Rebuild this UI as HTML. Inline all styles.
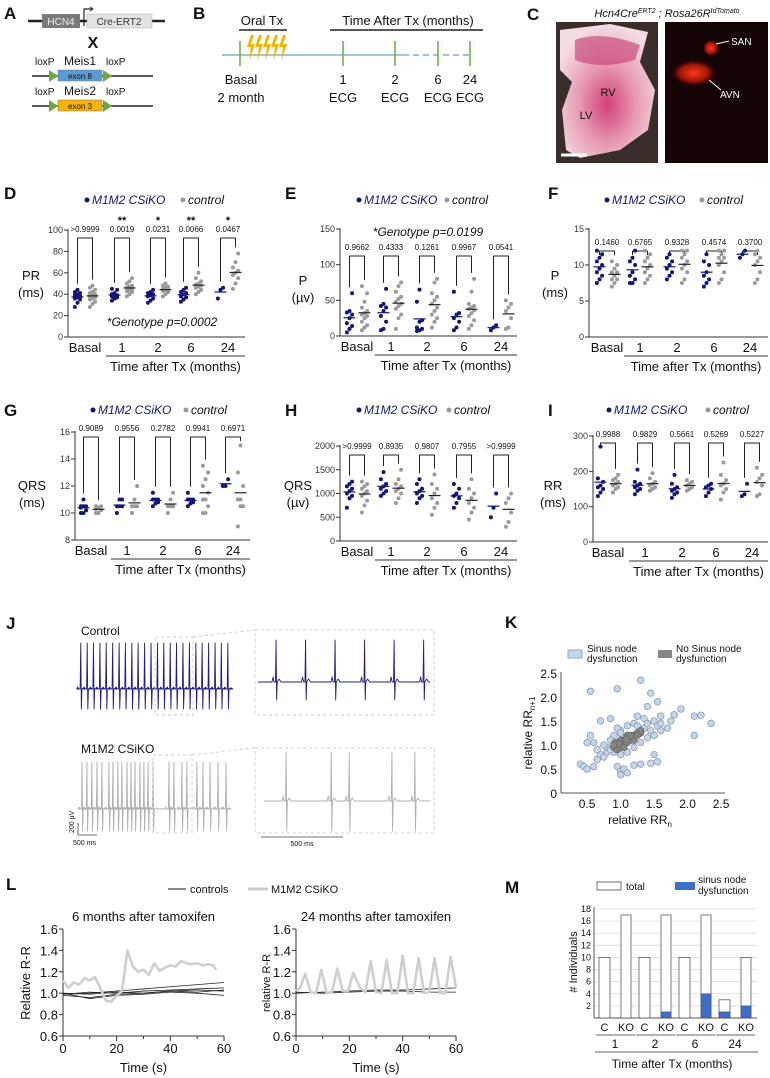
<!DOCTYPE html>
<html><head><meta charset="utf-8"><title>Figure</title>
<style>
html,body{margin:0;padding:0;background:#fff;}
svg{display:block;font-family:"Liberation Sans",Arial,sans-serif;}
</style></head>
<body>
<svg id="fig" width="770" height="1078" viewBox="0 0 770 1078" xmlns="http://www.w3.org/2000/svg">
<defs>
<radialGradient id="heartG" cx="0.5" cy="0.6" r="0.6">
<stop offset="0" stop-color="#d0417a"/><stop offset="0.5" stop-color="#e79ab3"/><stop offset="1" stop-color="#f3dde2"/>
</radialGradient>
<radialGradient id="glowG" cx="0.5" cy="0.5" r="0.5">
<stop offset="0" stop-color="#ff3a1a"/><stop offset="0.6" stop-color="#c41a08" stop-opacity="0.8"/><stop offset="1" stop-color="#200" stop-opacity="0"/>
</radialGradient>
</defs>
</svg>
<script>
// ---------- DATA ----------
const groups = ['Basal','1','2','6','24'];
// D: PR (ms)
const prKO = [[28,32,35,36,37,38,39,40,41,42,44],[34,36,37,38,38,39,40,41,44,45],[32,34,36,38,39,40,41,42,44],[33,35,37,38,40,41,42,44,46],[36,44,46]];
const prCtrl = [[28,31,33,35,36,37,38,39,40,41,42,44,46,48],[38,40,42,43,44,45,46,47,48,50,52,55],[38,40,42,43,44,44,45,46,47,48,50],[40,42,44,46,47,48,49,50,52,55,60],[45,50,55,58,60,62,65,70,78]];
const prP = ['>0.9999','0.0019','0.0231','0.0066','0.0467'];
const prStars = ['','**','*','**','*'];
// E: P (uV)
const pAmpKO = [[5,10,14,18,25,30,33,35,60],[8,10,20,28,35,40,42,45,66],[7,8,10,12,20,22,48,65],[8,12,20,25,30,32,62],[8,12,15]];
const pAmpCtrl = [[8,12,15,20,25,28,30,32,35,40,48,60,70],[10,25,30,38,42,45,48,52,55,62,70,75],[12,20,25,30,35,40,45,50,55,60,75,80],[10,15,22,28,32,36,38,40,42,45,62,80],[10,12,25,35,40,45,50]];
const pAmpP = ['0.9662','0.4333','0.1261','0.9967','0.0541'];
// F: P (ms)
const pDurKO = [[7.5,8,8.5,9,9.5,10,10.5,11,11.5,12],[7.5,7.5,8,8.5,9,10,10.5,11,12],[8,8.5,9,9.5,10,10.5,11,11.5],[7,7.5,8,8.5,9,10,10.5,11.5],[11,11.5,12]];
const pDurCtrl = [[7,7.5,8,8,8.5,9,9,9.5,10,10.5],[7.5,8,8.5,9,9.5,10,10.5,11,11.5,12],[7.5,8,9,9.5,10,10.5,11,11.5,12,12],[7.5,8,9,10,10.5,11,11,11.5,12,12],[7.5,8,9,10,10.5,11,11.5,12]];
const pDurP = ['0.1460','0.6765','0.9328','0.4574','0.3700'];
// G: QRS (ms)
const qrsKO = [[10,10,10.2,10.4,10.5,10.5,10.5,11],[10,10.5,10.5,10.5,11,11],[10.5,10.7,10.8,11,11,11,11.5],[10.5,10.7,10.8,11,11,11,11.5],[12,12,12.5]];
const qrsCtrl = [[10,10,10.2,10.3,10.4,10.5,10.5],[10,10.5,10.5,10.5,11,12],[10,10.5,10.5,10.5,11,11.5],[10,10,10.5,11,11,11.5,12,12.5,13,13.5],[9,10.5,10.5,11,11,12,13,15]];
const qrsP = ['0.9089','0.9556','0.2782','0.9941','0.6971'];
// H: QRS (uV)
const qrsAKO = [[700,900,950,1000,1050,1100,1150,1200,1250],[950,1000,1050,1100,1150,1200,1300,1450],[800,900,950,1000,1050,1100,1200,1300],[700,800,900,950,1000,1100,1200],[500,700,1000]];
const qrsACtrl = [[600,750,850,950,1000,1050,1100,1150,1200,1250],[800,900,1000,1050,1100,1150,1200,1300,1500],[550,700,800,900,1000,1100,1200,1400],[450,600,700,800,900,1000,1100,1300],[300,400,600,800,900,1000]];
const qrsAP = ['>0.9999','0.8935','0.9807','0.7955','>0.9999'];
// I: RR (ms)
const rrKO = [[130,140,150,155,160,170,180,270],[135,145,150,155,160,165,170,205],[125,135,140,145,150,155,165,190],[130,140,150,155,160,165],[130,135,165]];
const rrCtrl = [[140,150,155,160,165,170,175,180,190],[145,150,155,160,165,170,180,195],[145,150,155,160,165,170,175],[120,140,150,160,165,175,190,225],[130,135,160,170,180,190,210]];
const rrP = ['0.9988','0.9829','0.5661','0.5269','0.5227'];
// J: ECG beat times (ms)
const ctrlBeats = [20,190,355,525,690,860,1030,1195,1365,1530,1700,1870,2040,2205,2375,2540,2710,2880,3050,3215,3385,3555,3720,3890];
const ctrlInsetBeats = [110,290,470,650,830,1010];
const koBeats = [0,130,260,395,525,710,815,945,1050,1185,1290,1395,1525,1630,1740,1870,2290,2420,2630,2760,3025,3185,3370,3580,3790];
const koInsetBeats = [135,410,520,780,920];
// K: scatter
const sndX = [0.55,0.95,1.3,1.45,1.55,1.4,1.9,1.8,2.1,2.2,2.35,2.1,0.7,0.85,0.5,0.55,0.6,0.4,0.45,0.5,0.6,0.65,0.7,0.75,0.8,0.95,1.0,1.0,1.05,1.1,1.2,1.3,1.45,1.55,1.5,1.6,1.7,1.75,1.6,1.5,1.35,1.25,1.2,1.1,1.0,0.9,0.85,0.8,0.9,1.0,1.1,1.2,1.3,1.4,1.45,1.5,1.35,1.3,1.15,1.05,0.95,0.85,1.25,1.4,0.75,0.65,1.55,1.6,0.95,1.0];
const sndY = [2.12,2.17,2.35,2.08,1.9,1.8,1.75,1.63,1.6,1.62,1.45,1.2,1.5,1.55,1.05,1.2,1.05,0.6,0.55,0.5,0.55,0.7,0.8,0.75,0.85,0.55,0.45,0.38,0.5,0.42,0.58,0.6,0.62,0.65,0.8,1.3,1.35,1.5,1.6,1.5,1.55,1.6,1.45,1.4,1.3,1.2,1.1,0.95,0.85,0.8,0.85,0.95,1.05,1.15,1.3,1.2,1.35,1.3,1.2,1.15,1.05,0.9,1.4,1.45,1.0,0.9,1.4,1.45,1.35,1.25];
const noX = [0.9,0.95,1.0,1.05,1.1,1.15,1.2,1.25,1.3,0.95,1.0,1.05,1.1,1.15,1.2,0.92,1.0,1.1,1.2,1.25,0.9,1.05,1.15,1.3,0.98,1.08];
const noY = [0.95,1.0,1.05,1.0,1.1,1.15,1.2,1.25,1.25,0.9,0.95,1.1,1.05,1.1,1.15,1.05,1.1,1.2,1.1,1.2,1.0,0.95,1.2,1.3,1.02,1.12];
// L: relative R-R
const l6Time = [0,2,4,6,8,10,12,14,16,18,20,22,24,26,28,30,32,34,36,38,40,42,44,46,48,50,52,54,56,57];
const l6KO = [1.12,1.05,1.10,1.08,1.14,1.12,1.15,1.04,0.93,0.92,0.98,1.02,1.40,1.25,1.20,1.22,1.17,1.28,1.21,1.24,1.26,1.25,1.30,1.28,1.27,1.28,1.26,1.27,1.26,1.22];
const lCtrlTime = [0,10,20,30,40,50,60];
const l6Ctrl = [[0.99,1.0,1.02,1.04,1.06,1.08,1.10],[0.98,0.96,0.99,1.0,1.02,1.03,1.02],[1.0,0.95,0.98,0.99,1.01,1.0,0.98],[0.99,1.01,1.0,1.02,1.03,1.04,1.05],[1.0,0.99,1.01,1.0,1.02,1.01,1.03]];
const l24Time = [0,1.5,3.5,5.5,7.5,9.5,11.5,13.5,15.5,17.5,19.5,21.5,24,26,28,30,32,34,36,38,40,42,44,46,48,50,52,54,56,58,60];
const l24KO = [1.02,1.05,1.18,1.01,1.0,1.22,1.0,1.01,1.23,1.02,1.02,1.19,1.05,1.01,1.30,1.01,1.0,1.31,1.0,1.0,1.35,1.0,1.0,1.33,1.0,1.01,1.33,1.0,1.0,1.34,1.05];
const l24Ctrl = [[1.0,1.01,1.02,1.03,1.03,1.04,1.05],[1.01,1.0,1.01,1.02,1.02,1.01,1.01]];
// M: counts
const mGroups = ['1','2','6','24'];
const mTotalC = [10,10,10,3];
const mTotalKO = [17,17,17,10];
const mSndC = [0,0,0,1];
const mSndKO = [0,1,4,2];
const mTicks = [2,4,6,8,10,12,14,16,18];

// ---------- HELPERS ----------
const NS='http://www.w3.org/2000/svg';
const svg=document.getElementById('fig');
function mk(tag,attrs,name,parent){
  const el=document.createElementNS(NS,tag);
  for(const k in attrs) el.setAttribute(k,attrs[k]);
  
  
  (parent||svg).appendChild(el);
  return el;
}
function txt(x,y,s,name,o){
  o=o||{};
  const el=mk('text',{x:x,y:y,'font-size':o.fs||12,'text-anchor':o.a||'start',fill:o.fill||'#111','font-style':o.it?'italic':'normal','font-weight':o.b?'bold':'normal'},name,o.p);
  if(o.tr) el.setAttribute('transform',o.tr);
  el.textContent=s;
  return el;
}
function ln(x1,y1,x2,y2,name,o){
  o=o||{};
  return mk('line',{x1:x1,y1:y1,x2:x2,y2:y2,stroke:o.c||'#222','stroke-width':o.w||1,'stroke-dasharray':o.d||'none'},name,o.p);
}
function pathD(d,name,o){
  o=o||{};
  return mk('path',{d:d,fill:o.fill||'none',stroke:o.c||'#222','stroke-width':o.w||1,'stroke-linejoin':'round','stroke-dasharray':o.d||'none'},name,o.p);
}
function panelLabel(x,y,s){ txt(x,y,s,'panel-label-'+s.toLowerCase(),{fs:17,b:true}); }

// ---------- A ----------
panelLabel(4,19,'A');
ln(28,21,165,21,'hcn4-construct-line',{w:2.5});
mk('rect',{x:42,y:14,width:38,height:14,fill:'#7a7a7a'},'hcn4-box');
txt(61,25,'HCN4','hcn4-text',{fs:10,a:'middle',fill:'#eee'});
mk('rect',{x:87,y:14,width:65,height:14,fill:'#e3e3e3',stroke:'#aaa','stroke-width':0.5},'cre-ert2-box');
txt(119,25,'Cre-ERT2','cre-ert2-text',{fs:10,a:'middle',fill:'#333'});
pathD('M84 26 L84 9 L92 9','promoter-arrow',{w:1.2});
pathD('M90 7 L93 9 L90 11','promoter-arrowhead',{w:1});
txt(93,48,'X','cross-symbol',{fs:16,a:'middle',b:true});
function floxRow(y,gene,exon,col,nm){
  txt(35,y-11,'loxP','loxp-left-'+nm,{fs:10});
  txt(80,y-11,gene,'gene-name-'+nm,{fs:12,a:'middle'});
  txt(106,y-11,'loxP','loxp-right-'+nm,{fs:10});
  ln(32,y,153,y,'flox-line-'+nm,{w:1.5});
  mk('rect',{x:58,y:y-6,width:44,height:11,fill:col,stroke:'#777','stroke-width':0.5},'exon-box-'+nm);
  txt(80,y+3,exon,'exon-text-'+nm,{fs:8,a:'middle'});
  mk('polygon',{points:(49)+','+(y-6)+' '+(58)+','+y+' '+(49)+','+(y+6),fill:'#6aaa3a'},'loxp-triangle-left-'+nm);
  mk('polygon',{points:(103)+','+(y-6)+' '+(112)+','+y+' '+(103)+','+(y+6),fill:'#6aaa3a'},'loxp-triangle-right-'+nm);
}
floxRow(76,'Meis1','exon 8','#5b9bd5','meis1');
floxRow(106,'Meis2','exon 3','#f5b400','meis2');

// ---------- B ----------
panelLabel(193,19,'B');
txt(262,25,'Oral Tx','oral-tx-title',{fs:13,a:'middle'});
ln(239,30,287,30,'oral-tx-underline',{w:1.5});
txt(408,25,'Time After Tx (months)','time-after-tx-title',{fs:13,a:'middle'});
ln(330,30,483,30,'time-after-underline',{w:1.5});
ln(222,55,403,55,'timeline-solid',{c:'#7fb3d8',w:1.5});
ln(403,55,470,55,'timeline-dashed',{c:'#7fb3d8',w:1.5,d:'6,4'});
const bTicks=[[240,'Basal','2 month'],[343,'1','ECG'],[395,'2','ECG'],[438,'6','ECG'],[470,'24','ECG']];
bTicks.forEach((t,i)=>{
  ln(t[0],41,t[0],66,'timeline-tick-'+i,{c:'#6aaa3a',w:1.5});
  txt(t[0]+(i===0?1:0),84,t[1],'timeline-label-'+i,{fs:13,a:'middle'});
  txt(t[0]+(i===0?1:0),102,t[2],'timeline-sublabel-'+i,{fs:13,a:'middle'});
});
for(let i=0;i<5;i++){
  const x=248+i*8;
  mk('polygon',{points:`${x+3},35 ${x-1},47 ${x+3},47 ${x+1},61 ${x+7},44 ${x+3},44 ${x+6},35`,fill:'#f5b400'},'tamoxifen-bolt-'+i);
}

// ---------- C ----------
panelLabel(527,20,'C');
const cT=txt(667,17,'','genotype-title',{fs:11,a:'middle',it:true});
cT.innerHTML='Hcn4Cre<tspan font-size="7" dy="-4">ERT2</tspan><tspan dy="4"> ; Rosa26R</tspan><tspan font-size="7" dy="-4">tdTomato</tspan>';
mk('rect',{x:556,y:22,width:102,height:141,fill:'#3a2e2a'},'heart-photo-bg');
mk('path',{d:'M560 30 L610 24 L648 32 L640 62 L655 90 L648 130 L620 150 L580 158 L566 150 L562 110 L572 82 L560 70 Z',fill:'url(#heartG)'},'heart-photo');
mk('path',{d:'M575 40 Q600 30 640 45 L635 60 Q600 70 575 60 Z',fill:'#c43a72',opacity:0.6},'heart-atria');
txt(608,96,'RV','rv-label',{fs:11,a:'middle'});
txt(586,119,'LV','lv-label',{fs:11,a:'middle'});
ln(561,155,587,155,'scale-bar-photo',{c:'#fff',w:3});
mk('rect',{x:665,y:22,width:103,height:141,fill:'#150404'},'fluorescence-photo-bg');
mk('ellipse',{cx:694,cy:73,rx:24,ry:14,fill:'url(#glowG)'},'avn-glow');
mk('ellipse',{cx:711,cy:48,rx:9,ry:9,fill:'url(#glowG)'},'san-glow');
ln(716,44,729,41,'san-pointer',{c:'#fff'});
txt(731,45,'SAN','san-label',{fs:10,fill:'#fff'});
ln(709,80,721,90,'avn-pointer',{c:'#fff'});
txt(720,98,'AVN','avn-label',{fs:10,fill:'#fff'});

// ---------- DOT PLOTS ----------
function dotPlot(c){
  const n=c.id;
  panelLabel(c.lx,c.ly,n.toUpperCase());
  const ys=v=>c.y0-(v-c.vmin)/(c.vmax-c.vmin)*(c.y0-c.yTop);
  mk('circle',{cx:c.ax+c.legDx,cy:c.legY-4,r:2.5,fill:'#14147a'},'legend-dot-ko-'+n);
  txt(c.ax+c.legDx+5,c.legY,'M1M2 CSiKO','legend-ko-'+n,{fs:12,it:true,fill:'#14147a'});
  mk('circle',{cx:c.ax+c.legDx+c.legGap,cy:c.legY-4,r:2.5,fill:'#999'},'legend-dot-ctrl-'+n);
  txt(c.ax+c.legDx+c.legGap+5,c.legY,'control','legend-ctrl-'+n,{fs:12,it:true,fill:'#111'});
  ln(c.ax,c.y0,c.ax,c.yTop-1,'y-axis-'+n,{c:'#333'});
  ln(c.ax,c.y0,c.axEnd,c.y0,'x-axis-'+n,{c:'#333'});
  c.ticks.forEach(v=>{
    ln(c.ax-4,ys(v),c.ax,ys(v),'y-tick-'+n,{c:'#333'});
    txt(c.ax-5,ys(v)+3,String(v),'y-tick-label-'+n,{fs:9,a:'end',fill:'#333'});
  });
  txt(c.ylx,c.yly,c.yl1,'y-axis-title-'+n,{fs:13,a:'middle'});
  txt(c.ylx,c.yly+17,c.yl2,'y-axis-unit-'+n,{fs:13,a:'middle'});
  groups.forEach((g,i)=>{
    const cx=c.centers[i];
    txt(cx,c.y0+15,g,'x-group-label-'+n,{fs:13,a:'middle'});
    const kx=cx-7.5, ctx=cx+7.5;
    const ko=c.ko[i], ct=c.ctrl[i];
    const top=c.pY+6;
    const kmax=Math.max(...ko), cmax=Math.max(...ct);
    const kb=Math.max(top+4,ys(kmax)-6), cb=Math.max(top+4,ys(cmax)-6);
    pathD(`M${kx} ${kb} L${kx} ${top} L${ctx} ${top} L${ctx} ${cb}`,'significance-bracket-'+n,{c:'#222',w:1});
    txt(cx,c.pY,c.p[i],'p-value-'+n,{fs:8,a:'middle'});
    if(c.stars && c.stars[i]) txt(cx,c.pY-8,c.stars[i],'significance-stars-'+n,{fs:11,a:'middle',b:true});
    ko.forEach((v,j)=>{
      const dx=((j%3)-1)*2.6;
      mk('circle',{cx:kx+dx,cy:ys(v),r:2,fill:'#14147a'},'dot-ko-'+n);
    });
    ct.forEach((v,j)=>{
      const dx=((j%3)-1)*2.6;
      mk('circle',{cx:ctx+dx,cy:ys(v),r:2,fill:'#9a9a9a'},'dot-ctrl-'+n);
    });
    const km=ko.reduce((a,b)=>a+b,0)/ko.length, cm=ct.reduce((a,b)=>a+b,0)/ct.length;
    ln(kx-6,ys(km),kx+6,ys(km),'mean-line-ko-'+n,{c:'#14147a',w:1.2});
    ln(ctx-6,ys(cm),ctx+6,ys(cm),'mean-line-ctrl-'+n,{c:'#222',w:1.2});
  });
  ln(c.centers[1]-16,c.y0+19,c.axEnd,c.y0+19,'x-group-underline-'+n,{c:'#333'});
  txt((c.centers[1]-16+c.axEnd)/2,c.y0+34,'Time after Tx (months)','x-axis-title-'+n,{fs:13,a:'middle'});
}
dotPlot({id:'d',lx:4,ly:199,ax:68,axEnd:245,y0:337,yTop:230,vmin:0,vmax:100,ticks:[0,20,40,60,80,100],centers:[85,122,158,191,228],ko:prKO,ctrl:prCtrl,p:prP,stars:prStars,pY:232,legY:204,legDx:19,legGap:96,ylx:31,yly:280,yl1:'PR',yl2:'(ms)'});
dotPlot({id:'e',lx:285,ly:199,ax:340,axEnd:517,y0:336,yTop:229,vmin:0,vmax:150,ticks:[0,50,100,150],centers:[357,391,427,464,501],ko:pAmpKO,ctrl:pAmpCtrl,p:pAmpP,pY:250,legY:204,legDx:19,legGap:88,ylx:303,yly:285,yl1:'P',yl2:'(µv)'});
dotPlot({id:'f',lx:548,ly:199,ax:589,axEnd:768,y0:337,yTop:229,vmin:0,vmax:15,ticks:[0,5,10,15],centers:[607,640,677,714,750],ko:pDurKO,ctrl:pDurCtrl,p:pDurP,pY:245,legY:204,legDx:18,legGap:95,ylx:555,yly:280,yl1:'P',yl2:'(ms)'});
dotPlot({id:'g',lx:4,ly:416,ax:75,axEnd:250,y0:540,yTop:432,vmin:8,vmax:16,ticks:[8,10,12,14,16],centers:[91,127,163,198,233],ko:qrsKO,ctrl:qrsCtrl,p:qrsP,pY:431,legY:414,legDx:18,legGap:93,ylx:32,yly:490,yl1:'QRS',yl2:'(ms)'});
dotPlot({id:'h',lx:285,ly:416,ax:340,axEnd:517,y0:541,yTop:446,vmin:0,vmax:2000,ticks:[0,500,1000,1500,2000],centers:[357,391,427,464,501],ko:qrsAKO,ctrl:qrsACtrl,p:qrsAP,pY:449,legY:414,legDx:19,legGap:90,ylx:298,yly:490,yl1:'QRS',yl2:'(µv)'});
dotPlot({id:'i',lx:548,ly:416,ax:593,axEnd:768,y0:542,yTop:436,vmin:0,vmax:300,ticks:[0,100,200,300],centers:[608,645,682,716,752],ko:rrKO,ctrl:rrCtrl,p:rrP,pY:437,legY:414,legDx:16,legGap:99,ylx:553,yly:490,yl1:'RR',yl2:'(ms)'});
txt(162,326,'*Genotype  p=0.0002','genotype-annotation-d',{fs:12,a:'middle',it:true});
txt(428,236,'*Genotype p=0.0199','genotype-annotation-e',{fs:12,a:'middle',it:true});

// ---------- J ----------
panelLabel(6,629,'J');
txt(81,635,'Control','control-trace-label',{fs:12});
txt(81,753,'M1M2 CSiKO','ko-trace-label',{fs:12});
function ecg(beats,x0,pxPerMs,xEnd,base,up,down,col,name,pw){
  const bx=beats.map(b=>x0+b*pxPerMs);
  let d=`M${x0} ${base}`;
  bx.forEach(x=>{
    d+=` L${x-4} ${base} L${x-3} ${base-pw} L${x-2} ${base} L${x-0.6} ${base} L${x} ${base-up} L${x+0.6} ${base+down} L${x+1.2} ${base} L${x+3} ${base-pw*0.6} L${x+5} ${base}`;
  });
  d+=` L${xEnd} ${base}`;
  pathD(d,name,{c:col,w:0.9});
}
ecg(ctrlBeats,80,0.038,229,689,46,20,'#1f1f80','ecg-trace-control',2);
ecg(ctrlInsetBeats,258,0.164,430,682,42,18,'#1f1f80','ecg-inset-control',5);
ecg(koBeats,82,0.038,228,809,47,22,'#b0b0b0','ecg-trace-ko',2);
ecg(koInsetBeats,264,0.164,430,801,49,30,'#b0b0b0','ecg-inset-ko',5);
const zb={c:'#cfcfcf',w:1,d:'3,3'};
mk('rect',{x:155,y:637,width:38,height:78,fill:'none',stroke:'#cfcfcf','stroke-dasharray':'3,3'},'zoom-box-small-control');
mk('rect',{x:255,y:630,width:179,height:85,fill:'none',stroke:'#cfcfcf','stroke-dasharray':'3,3'},'zoom-box-large-control');
ln(193,637,255,630,'zoom-connector-control',zb);
mk('rect',{x:153,y:755,width:39,height:78,fill:'none',stroke:'#cfcfcf','stroke-dasharray':'3,3'},'zoom-box-small-ko');
mk('rect',{x:255,y:748,width:179,height:85,fill:'none',stroke:'#cfcfcf','stroke-dasharray':'3,3'},'zoom-box-large-ko');
ln(192,755,255,748,'zoom-connector-ko',zb);
pathD('M78 823 L78 835 L97 835','scale-bar-main',{c:'#444',w:0.8});
txt(74,833,'200 µV','scale-bar-voltage',{fs:7,tr:'rotate(-90 74 833)'});
txt(73,845,'500 ms','scale-bar-time-main',{fs:7});
ln(261,837,343,837,'scale-bar-inset',{c:'#444',w:0.8});
txt(302,846,'500 ms','scale-bar-time-inset',{fs:7,a:'middle'});

// ---------- K ----------
panelLabel(505,628,'K');
mk('rect',{x:568,y:650,width:14,height:8,fill:'#c5d7ee',stroke:'#9ab'},'legend-swatch-snd');
txt(587,652,'Sinus node','legend-snd-line1',{fs:10});
txt(587,662,'dysfunction','legend-snd-line2',{fs:10});
mk('rect',{x:658,y:650,width:14,height:8,fill:'#858585'},'legend-swatch-no-snd');
txt(676,652,'No Sinus node','legend-no-snd-line1',{fs:10});
txt(676,662,'dysfunction','legend-no-snd-line2',{fs:10});
const kxs=v=>553.6+v*67, kys=v=>793-v*48;
ln(561,793,561,672,'k-y-axis',{c:'#555'});
ln(561,793,725,793,'k-x-axis',{c:'#555'});
[0,0.5,1.0,1.5,2.0,2.5].forEach(v=>{
  txt(557,kys(v)+5,v===0?'0':v.toFixed(1),'k-y-tick-label',{fs:12,a:'end'});
  if(v>0) txt(kxs(v),808,v.toFixed(1),'k-x-tick-label',{fs:12,a:'middle'});
});
const kxl=txt(640,824,'relative RR','k-x-axis-title',{fs:12,a:'middle'});
kxl.innerHTML='relative RR<tspan font-size="8" dy="3">n</tspan>';
const kyl=txt(532,733,'','k-y-axis-title',{fs:12,a:'middle',tr:'rotate(-90 532 733)'});
kyl.innerHTML='relative RR<tspan font-size="8" dy="3">n+1</tspan>';
sndX.forEach((x,i)=>{ mk('circle',{cx:kxs(x),cy:kys(sndY[i]),r:3.3,fill:'#c5d5ea',stroke:'#7f93ad','stroke-width':0.7},'scatter-point-snd'); });
noX.forEach((x,i)=>{ mk('circle',{cx:kxs(x),cy:kys(noY[i]),r:3.3,fill:'#858585',stroke:'#666','stroke-width':0.7},'scatter-point-no-snd'); });

// ---------- L ----------
panelLabel(6,890,'L');
ln(168,889,186,889,'legend-line-controls',{c:'#111',w:1});
txt(190,893,'controls','legend-controls',{fs:11});
ln(248,889,268,889,'legend-line-ko',{c:'#ccc',w:3});
txt(271,893,'M1M2 CSiKO','legend-ko-l',{fs:11});
function lChart(o){
  const xs=t=>o.ax+t/60*(o.x60-o.ax), ys=v=>1036-(v-0.6)/1.0*107;
  txt((o.ax+o.x60)/2,921,o.title,'l-title-'+o.n,{fs:13,a:'middle'});
  ln(o.ax,1036,o.ax,929,'l-y-axis-'+o.n,{c:'#333'});
  ln(o.ax,1036,o.x60,1036,'l-x-axis-'+o.n,{c:'#333'});
  [0.6,0.8,1.0,1.2,1.4,1.6].forEach(v=>{
    ln(o.ax-4,ys(v),o.ax,ys(v),'l-y-tick-'+o.n,{c:'#333'});
    txt(o.ax-5,ys(v)+5,v.toFixed(1),'l-y-tick-label-'+o.n,{fs:13,a:'end'});
  });
  [0,10,20,30,40,50,60].forEach(t=>{
    ln(xs(t),1036,xs(t),t%20===0?1041:1039,'l-x-tick-'+o.n,{c:'#333'});
    if(t%20===0) txt(xs(t),1053,String(t),'l-x-tick-label-'+o.n,{fs:13,a:'middle'});
  });
  txt((o.ax+o.x60)/2,1072,'Time (s)','l-x-axis-title-'+o.n,{fs:13,a:'middle'});
  txt(o.ylx,983,o.ylab,'l-y-axis-title-'+o.n,{fs:o.ylfs,a:'middle',tr:`rotate(-90 ${o.ylx} 983)`});
  o.ctrls.forEach((arr,k)=>{
    pathD(arr.map((v,i)=>(i?'L':'M')+xs(lCtrlTime[i])+' '+ys(v)).join(' '),'l-control-line-'+o.n,{c:'#222',w:0.8});
  });
  pathD(o.ko.map((v,i)=>(i?'L':'M')+xs(o.kt[i])+' '+ys(v)).join(' '),'l-ko-line-'+o.n,{c:'#cfcfcf',w:2.6});
}
lChart({n:'6m',ax:63,x60:224,title:'6 months after tamoxifen',ylab:'Relative R-R',ylx:30,ylfs:13,ctrls:l6Ctrl,ko:l6KO,kt:l6Time});
lChart({n:'24m',ax:296,x60:456,title:'24 months after tamoxifen',ylab:'relative R-R',ylx:270,ylfs:11,ctrls:l24Ctrl,ko:l24KO,kt:l24Time});

// ---------- M ----------
panelLabel(505,893,'M');
mk('rect',{x:597,y:882,width:24,height:8,fill:'#fff',stroke:'#333','stroke-width':0.7},'legend-swatch-total');
txt(626,890,'total','legend-total',{fs:10});
mk('rect',{x:675,y:882,width:20,height:8,fill:'#3d6ecb'},'legend-swatch-sinus');
txt(698,883,'sinus node','legend-sinus-line1',{fs:10});
txt(698,894,'dysfunction','legend-sinus-line2',{fs:10});
const mys=v=>1018-v*6.06;
mTicks.forEach(v=>{
  ln(594,mys(v),757,mys(v),'m-gridline',{c:'#d8d8d8',w:0.7});
  txt(591,mys(v)+3,String(v),'m-y-tick-label',{fs:9,a:'end'});
});
ln(594,1018,594,907,'m-y-axis',{c:'#555'});
ln(594,1018,757,1018,'m-x-axis',{c:'#555'});
txt(577,962,'# Individuals','m-y-axis-title',{fs:11,a:'middle',tr:'rotate(-90 577 962)'});
mGroups.forEach((g,i)=>{
  const cx=599+i*40, kx=621+i*40;
  mk('rect',{x:cx,y:mys(mTotalC[i]),width:11,height:mys(0)-mys(mTotalC[i]),fill:'#fff',stroke:'#444','stroke-width':0.7},'bar-total-c-'+g);
  mk('rect',{x:kx,y:mys(mTotalKO[i]),width:10,height:mys(0)-mys(mTotalKO[i]),fill:'#fff',stroke:'#444','stroke-width':0.7},'bar-total-ko-'+g);
  if(mSndC[i]>0) mk('rect',{x:cx,y:mys(mSndC[i]),width:11,height:mys(0)-mys(mSndC[i]),fill:'#3d6ecb',stroke:'#444','stroke-width':0.5},'bar-snd-c-'+g);
  if(mSndKO[i]>0) mk('rect',{x:kx,y:mys(mSndKO[i]),width:10,height:mys(0)-mys(mSndKO[i]),fill:'#3d6ecb',stroke:'#444','stroke-width':0.5},'bar-snd-ko-'+g);
  txt(cx+5.5,1031,'C','m-x-label-c',{fs:11,a:'middle'});
  txt(kx+5,1031,'KO','m-x-label-ko',{fs:11,a:'middle'});
  ln(cx-3,1035,kx+14,1035,'m-group-underline',{c:'#333',w:0.8});
  txt((cx+kx+10)/2,1048,g,'m-group-label',{fs:12,a:'middle'});
});
ln(595,1052,758,1052,'m-time-underline',{c:'#333',w:0.8});
txt(672,1068,'Time after Tx (months)','m-x-axis-title',{fs:12,a:'middle'});
</script>
</body></html>
